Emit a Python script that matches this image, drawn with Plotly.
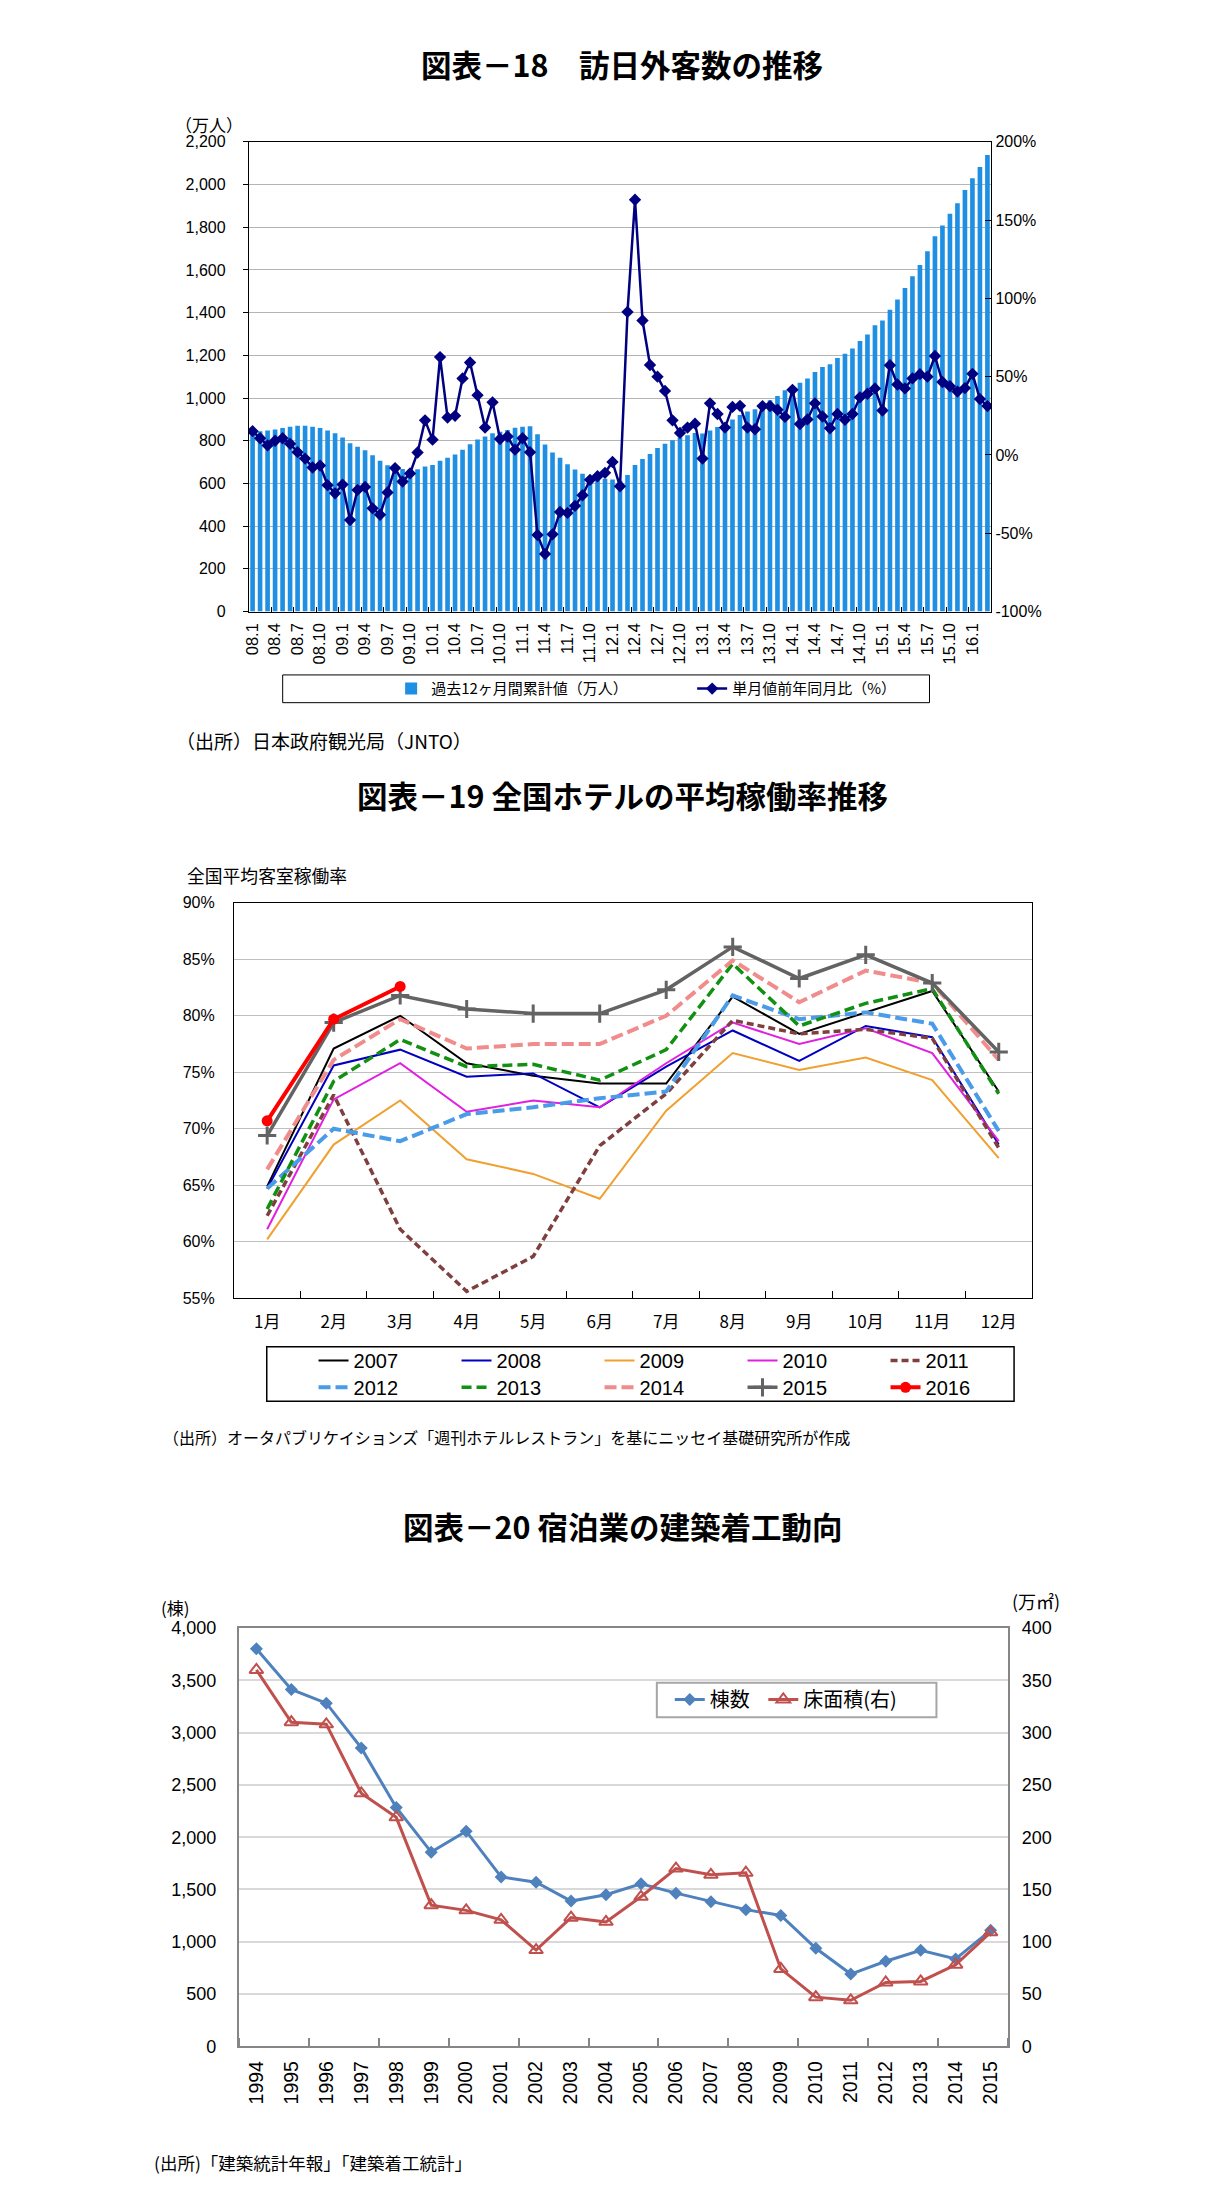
import plotly.graph_objects as go

W, H = 1224, 2186
OFFX, OFFY = 11, 17  # page offset of the figure (browser body margin + measured shift)
JP = "Noto Sans CJK JP"
SANS = "Liberation Sans, Arial, Noto Sans CJK JP"


def fx(p):
    return (p - OFFX) / W


def fy(p):
    return 1 - (p - OFFY) / H


# ---------------- 図表-18 data ----------------
months1 = [f"{yy:02d}.{m}" for yy in range(8, 16) for m in range(1, 13)] + ["16.1", "16.2", "16.3"]
visitors_12m = [
    842, 845, 848, 853, 860, 866, 870, 870, 866, 860, 848, 835,
    815, 788, 772, 755, 732, 706, 685, 676, 668, 664, 667, 679,
    686, 706, 720, 735, 758, 783, 806, 820, 835, 842, 850, 861,
    866, 868, 830, 782, 745, 720, 690, 665, 645, 630, 625, 622,
    618, 612, 640, 686, 715, 738, 766, 786, 802, 815, 826, 836,
    834, 848, 864, 878, 900, 920, 937, 948, 966, 990, 1010, 1036,
    1055, 1072, 1092, 1122, 1145, 1158, 1188, 1208, 1232, 1267, 1298, 1341,
    1363, 1413, 1462, 1515, 1570, 1623, 1688, 1758, 1808, 1863, 1913, 1974,
    2030, 2082, 2138,
]
yoy_pct = [
    15.2, 10.7, 6.1, 9.1, 10.7, 7.1, 1.8, -2.3, -8.0, -6.8, -19.3, -24.5,
    -18.9, -41.6, -22.3, -20.4, -34.1, -38.2, -23.9, -8.4, -17.0, -11.8, 1.6, 22.1,
    9.8, 62.5, 23.9, 25.0, 48.9, 59.1, 38.2, 17.5, 33.6, 10.2, 11.8, 3.4,
    10.7, 1.8, -51.1, -63.2, -50.7, -36.4, -37.0, -32.5, -25.7, -15.9, -13.6, -11.4,
    -4.5, -20.0, 91.4, 163.0, 85.9, 57.5, 50.0, 40.9, 22.1, 14.1, 17.5, 20.0,
    -2.3, 33.0, 26.2, 17.5, 30.7, 31.4, 17.5, 16.4, 31.2, 31.2, 28.9, 24.3,
    41.6, 19.8, 22.7, 33.0, 24.6, 17.1, 26.2, 22.5, 26.2, 36.8, 39.1, 42.5,
    28.4, 57.3, 45.0, 42.5, 48.9, 51.6, 50.0, 63.2, 46.6, 43.9, 40.5, 42.7,
    51.8, 35.7, 31.2,
]
r_tickvals = [-100, -50, 0, 50, 100, 150, 200]
r_ticktext = ["-100%", "-50%", "0%", "50%", "100%", "150%", "200%"]

# ---------------- 図表-19 data ----------------
months2 = ["1月", "2月", "3月", "4月", "5月", "6月", "7月", "8月", "9月", "10月", "11月", "12月"]
occ_2007 = [64.9, 77.1, 80.0, 75.8, 74.7, 74.0, 74.0, 81.7, 78.4, 80.3, 82.2, 73.3]
occ_2008 = [64.7, 75.6, 77.0, 74.6, 74.9, 71.9, 75.5, 78.7, 76.0, 79.1, 78.1, 68.6]
occ_2009 = [60.2, 68.6, 72.5, 67.3, 66.0, 63.8, 71.6, 76.7, 75.2, 76.3, 74.3, 67.4]
occ_2010 = [61.1, 72.6, 75.8, 71.5, 72.5, 71.9, 75.8, 79.4, 77.5, 78.9, 76.7, 68.9]
occ_2011 = [62.3, 73.0, 61.1, 55.6, 58.7, 68.5, 73.1, 79.6, 78.4, 78.8, 78.0, 68.3]
occ_2012 = [64.7, 70.0, 68.9, 71.3, 71.9, 72.7, 73.3, 81.8, 79.7, 80.3, 79.3, 69.8]
occ_2013 = [62.9, 74.2, 77.9, 75.5, 75.7, 74.3, 77.0, 84.6, 79.1, 81.1, 82.4, 73.1]
occ_2014 = [66.4, 76.1, 79.7, 77.1, 77.5, 77.5, 80.0, 84.9, 81.2, 84.0, 82.9, 76.1]
occ_2015 = [69.4, 79.4, 81.8, 80.6, 80.2, 80.2, 82.3, 86.1, 83.3, 85.4, 82.9, 76.8]
occ_2016 = [70.7, 79.7, 82.6]
occ_ticks = [55, 60, 65, 70, 75, 80, 85, 90]
occ_ticktext = ["55%", "60%", "65%", "70%", "75%", "80%", "85%", "90%"]

# ---------------- 図表-20 data ----------------
years3 = [1994, 1995, 1996, 1997, 1998, 1999, 2000, 2001, 2002, 2003, 2004,
          2005, 2006, 2007, 2008, 2009, 2010, 2011, 2012, 2013, 2014, 2015]
buildings = [3802, 3414, 3282, 2854, 2285, 1857, 2058, 1620, 1570, 1389, 1449,
             1554, 1465, 1383, 1307, 1251, 938, 691, 813, 918, 836, 1109]
floor_area = [360, 310, 308, 242, 219, 135, 130, 121, 92, 123, 119,
              143, 170, 164, 166, 74, 47, 44, 61, 62, 78, 109]

traces = []
# chart 1
traces.append(go.Bar(x=months1, y=visitors_12m, name="過去12ヶ月間累計値（万人）",
                     marker=dict(color="#1E8FE3", line=dict(width=0)),
                     xaxis="x", yaxis="y", legend="legend"))
traces.append(go.Scatter(x=months1, y=yoy_pct, name="単月値前年同月比（%）", mode="lines+markers",
                         line=dict(color="#000080", width=2.5),
                         marker=dict(symbol="diamond", size=9.5, color="#000080"),
                         xaxis="x", yaxis="y2", legend="legend"))

# chart 2
series2 = [
    ("2007", occ_2007, dict(color="#000000", width=2), None, "legend2"),
    ("2008", occ_2008, dict(color="#0000C0", width=2), None, "legend2"),
    ("2009", occ_2009, dict(color="#F0A030", width=2), None, "legend2"),
    ("2010", occ_2010, dict(color="#E020E0", width=2), None, "legend2"),
    ("2011", occ_2011, dict(color="#7F3F3F", width=3.5, dash="7px,4px"), None, "legend2"),
    ("2012", occ_2012, dict(color="#4A9BE8", width=4, dash="12px,5px"), None, "legend3"),
    ("2013", occ_2013, dict(color="#119011", width=3.5, dash="10px,5px"), None, "legend3"),
    ("2014", occ_2014, dict(color="#F08C8C", width=4, dash="12px,5px"), None, "legend3"),
    ("2015", occ_2015, dict(color="#636363", width=3.5),
     dict(symbol="cross-thin", size=13, line=dict(color="#636363", width=3)), "legend3"),
    ("2016", occ_2016, dict(color="#FF0000", width=4),
     dict(symbol="circle", size=11, color="#FF0000"), "legend3"),
]
for name, vals, ln, mk, lg in series2:
    traces.append(go.Scatter(x=months2[:len(vals)], y=vals, name=name,
                             mode="lines+markers" if mk else "lines",
                             line=ln, marker=mk if mk else None,
                             xaxis="x2", yaxis="y3", legend=lg))

# chart 3
traces.append(go.Scatter(x=years3, y=buildings, name="棟数", mode="lines+markers",
                         line=dict(color="#4F81BD", width=3),
                         marker=dict(symbol="diamond", size=10, color="#4F81BD"),
                         xaxis="x3", yaxis="y4", legend="legend4"))
traces.append(go.Scatter(x=years3, y=floor_area, name="床面積(右)", mode="lines+markers",
                         line=dict(color="#C0504D", width=3),
                         marker=dict(symbol="triangle-up-open", size=12, color="#C0504D",
                                     line=dict(color="#C0504D", width=2)),
                         xaxis="x3", yaxis="y5", legend="legend5"))

fig = go.Figure(data=traces)

legend_common = dict(orientation="h", bgcolor="rgba(0,0,0,0)", borderwidth=0,
                     xanchor="left", yanchor="middle", traceorder="normal",
                     itemclick=False, itemdoubleclick=False)

fig.update_layout(
    width=W, height=H, autosize=False,
    margin=dict(l=0, r=0, t=0, b=0, pad=0),
    paper_bgcolor="white", plot_bgcolor="white",
    bargap=0.38, showlegend=True,
    font=dict(family=JP, color="black"),
    # ---- chart 1 axes
    xaxis=dict(domain=[fx(247), fx(993)], anchor="y", type="category",
               tickmode="linear", tick0=0, dtick=3, tickson="boundaries",
               ticks="inside", ticklen=5, tickcolor="black", tickangle=-90,
               tickfont=dict(family=SANS, size=16.5), ticklabelstandoff=4, showgrid=False,
               showline=True, linecolor="black", linewidth=1, mirror=True,
               range=[-0.5, len(months1) - 0.5]),
    yaxis=dict(domain=[fy(616), fy(142)], anchor="x", range=[0, 2200], dtick=200,
               tickformat=",d", tickfont=dict(family=SANS, size=16),
               ticks="outside", ticklen=5, tickcolor="black", ticklabelstandoff=14,
               showgrid=True, gridcolor="#B4B4B4", gridwidth=1, zeroline=False,
               showline=True, linecolor="black", linewidth=1, mirror=True),
    yaxis2=dict(overlaying="y", side="right", anchor="x", range=[-100, 200],
                tickmode="array", tickvals=r_tickvals, ticktext=r_ticktext,
                tickfont=dict(family=SANS, size=16), ticks="inside", ticklen=6,
                tickcolor="black", showgrid=False, zeroline=False,
                showline=True, linecolor="black", linewidth=1),
    # ---- chart 2 axes
    xaxis2=dict(domain=[fx(232), fx(1034)], anchor="y3", type="category",
                tickson="boundaries", ticks="inside", ticklen=7, tickcolor="black",
                tickfont=dict(family=JP, size=17), ticklabelstandoff=8, showgrid=False,
                showline=True, linecolor="black", linewidth=1, mirror=True,
                range=[-0.5, 11.5]),
    yaxis3=dict(domain=[fy(1309), fy(910)], anchor="x2", range=[55, 90],
                tickmode="array", tickvals=occ_ticks, ticktext=occ_ticktext,
                tickfont=dict(family=SANS, size=16), ticks="", ticklabelstandoff=15,
                showgrid=True, gridcolor="#BFBFBF", gridwidth=1, zeroline=False,
                showline=True, linecolor="black", linewidth=1, mirror=True),
    # ---- chart 3 axes
    xaxis3=dict(domain=[fx(237), fx(1010)], anchor="y4", range=[1993.5, 2015.5],
                tickmode="linear", tick0=1994, dtick=1, ticks="", tickangle=-90,
                tickfont=dict(family=SANS, size=19.5), ticklabelstandoff=5,
                minor=dict(ticks="inside", tick0=1995.5, dtick=2, ticklen=8,
                           tickcolor="#868686", tickwidth=1.5, showgrid=False),
                showgrid=False, zeroline=False,
                showline=True, linecolor="#868686", linewidth=2, mirror=True),
    yaxis4=dict(domain=[fy(2064), fy(1642)], anchor="x3", range=[0, 4000], dtick=500,
                tickformat=",d", tickfont=dict(family=SANS, size=18), ticks="",
                ticklabelstandoff=17,
                showgrid=True, gridcolor="#D9D9D9", gridwidth=2, zeroline=False,
                showline=True, linecolor="#868686", linewidth=2),
    yaxis5=dict(overlaying="y4", side="right", anchor="x3", range=[0, 400], dtick=50,
                tickfont=dict(family=SANS, size=18), ticks="", ticklabelstandoff=8,
                showgrid=False, zeroline=False,
                showline=True, linecolor="#868686", linewidth=2),
    # ---- legends
    legend=dict(legend_common, x=fx(390), y=fy(694), entrywidthmode="pixels", entrywidth=256,
                font=dict(family=JP, size=15)),
    legend2=dict(legend_common, x=fx(312), y=fy(1372), entrywidthmode="pixels", entrywidth=98,
                 font=dict(family=SANS, size=20)),
    legend3=dict(legend_common, x=fx(312), y=fy(1399), entrywidthmode="pixels", entrywidth=98,
                 font=dict(family=SANS, size=20)),
    legend4=dict(legend_common, x=fx(670), y=fy(1714), font=dict(family=JP, size=20)),
    legend5=dict(legend_common, x=fx(764), y=fy(1714), font=dict(family=JP, size=20)),
)

box = dict(type="rect", xref="paper", yref="paper", fillcolor="rgba(0,0,0,0)", layer="above")
fig.add_shape(box, x0=fx(281), x1=fx(931), y0=fy(708), y1=fy(680), line=dict(color="black", width=1))
fig.add_shape(box, x0=fx(265), x1=fx(1016), y0=fy(1413), y1=fy(1358), line=dict(color="black", width=1.5))
fig.add_shape(box, x0=fx(657), x1=fx(938), y0=fy(1732), y1=fy(1697), line=dict(color="#A6A6A6", width=2))


def text(s, x, y, size, anchor="left", family=JP, bold=False):
    fig.add_annotation(text=f"<b>{s}</b>" if bold else s, x=fx(x), y=fy(y),
                       xref="paper", yref="paper", xanchor=anchor, yanchor="middle",
                       showarrow=False, font=dict(family=family, size=size, color="black"))


text("図表－18　訪日外客数の推移", 622, 63, 30.5, "center", bold=True)
text("（万人）", 207, 124, 17, "center")
text("（出所）日本政府観光局（JNTO）", 172, 746, 19)

text("図表－19 全国ホテルの平均稼働率推移", 622, 801, 30.5, "center", bold=True)
text("全国平均客室稼働率", 183, 882, 17.8)
text("（出所）オータパブリケイションズ「週刊ホテルレストラン」を基にニッセイ基礎研究所が作成", 159, 1449, 16)

text("図表－20 宿泊業の建築着工動向", 622, 1539, 30.5, "center", bold=True)
text("(棟)", 173, 1621, 17, "center")
text("(万㎡)", 1038, 1615, 18, "center")
text("(出所)「建築統計年報」「建築着工統計」", 150, 2181, 17.5)

fig.write_html("out.html", config={"displayModeBar": False})
